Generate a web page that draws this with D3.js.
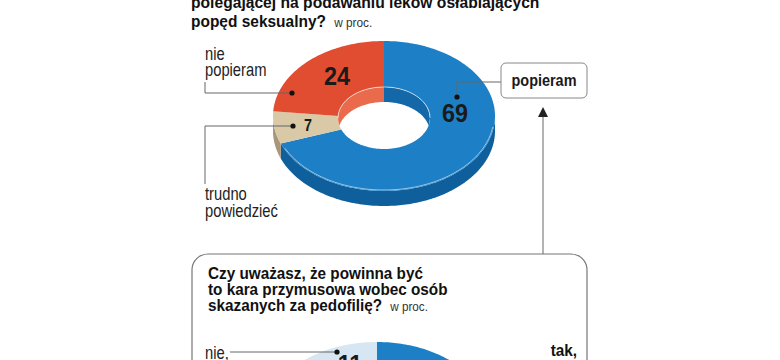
<!DOCTYPE html>
<html><head><meta charset="utf-8">
<script src="https://cdn.jsdelivr.net/npm/d3@7/dist/d3.min.js"></script>
<style>
html,body{margin:0;padding:0;background:#fff;}
svg{display:block;}
text{font-family:"Liberation Sans",Arial,sans-serif;}
</style></head>
<body>
<svg id="c" width="780" height="360"></svg>
<script>
// ---- data ----
const title1 = ["polegającej na podawaniu leków osłabiających", "popęd seksualny?"];
const title2 = ["Czy uważasz, że powinna być", "to kara przymusowa wobec osób", "skazanych za pedofilię?"];
const unitLabel = "w proc.";
const cats1 = ["popieram", "trudno powiedzieć", "nie popieram"];
const values1 = [69, 7, 24];
const cats2 = ["tak, powinna", "trudno powiedzieć", "nie"];
const values2 = [82, 7, 11];

const colTop1 = ["#1d80c6", "#d9c9a6", "#e04d30"];
const colSide1 = ["#0f5f9c", "#a8977a", "#b8391f"];
const colWall1 = ["#1568a8", "#c4b491", "#ea6a4c"];
const colTop2 = ["#1d80c6", "#b9cfe0", "#d6e6f2"];

const svg = d3.select("#c");
const TAU = Math.PI * 2;

function pts(cx, cy, rx, ry, a0, a1) {
  const n = Math.max(2, Math.ceil(Math.abs(a1 - a0) / 0.02));
  return d3.range(n + 1).map(i => {
    const t = a0 + (a1 - a0) * i / n;
    return [cx + rx * Math.sin(t), cy - ry * Math.cos(t)];
  });
}
const line = d3.line();
function closedPath(p) { return line(p) + "Z"; }

// condensed text helper
function txt(g, x, y, str, opt) {
  opt = opt || {};
  const t = g.append("text")
    .attr("transform", `translate(${x},${y}) scale(${opt.sx || 0.9},1)`)
    .attr("font-size", opt.size || 17)
    .attr("font-weight", opt.bold ? "bold" : "normal")
    .attr("text-anchor", opt.anchor || "start")
    .attr("fill", opt.fill || "#1a1a1a");
  if (str !== null) t.text(str);
  return t;
}

function drawDonut(g, values, colTop, colSide, colWall, o) {
  const pie = d3.pie().sort(null).value(d => d);
  const arcs = pie(values);
  if (colSide) {
    arcs.forEach((a, i) => {
      const s = Math.max(a.startAngle, Math.PI / 2), e = Math.min(a.endAngle, 3 * Math.PI / 2);
      if (e <= s) return;
      const p = pts(o.cx, o.cy, o.rx, o.ry, s, e).concat(pts(o.cx, o.cy + o.depth, o.rx, o.ry, e, s));
      g.append("path").attr("d", closedPath(p)).attr("fill", colSide[i]);
    });
  }
  arcs.forEach((a, i) => {
    const p = pts(o.cx, o.cy, o.rx, o.ry, a.startAngle, a.endAngle)
      .concat(pts(o.cx, o.cy + o.idy, o.irx, o.iry, a.endAngle, a.startAngle));
    g.append("path").attr("d", closedPath(p)).attr("fill", colTop[i]);
  });
  if (colSide) {
    g.append("path").attr("d", line(pts(o.cx, o.cy, o.rx - 1, o.ry - 1, Math.PI / 2 + 0.15, 3 * Math.PI / 2 - 0.45)))
      .attr("fill", "none").attr("stroke", "#ffffff").attr("stroke-opacity", 0.55).attr("stroke-width", 1);
  }
  if (colWall) {
    const id = "clip" + Math.round(o.cx) + "_" + Math.round(o.cy);
    svg.append("defs").append("clipPath").attr("id", id)
      .append("ellipse").attr("cx", o.cx).attr("cy", o.cy + o.idy).attr("rx", o.irx).attr("ry", o.iry);
    const wg = g.append("g").attr("clip-path", "url(#" + id + ")");
    arcs.forEach((a, i) => {
      [[0, Math.PI / 2], [3 * Math.PI / 2, TAU]].forEach(r => {
        const s = Math.max(a.startAngle, r[0]), e = Math.min(a.endAngle, r[1]);
        if (e <= s) return;
        const s2 = s - (r[0] === 0 ? 0.05 : 0), e2 = e + (r[1] === TAU ? 0.0 : 0.05);
        const p = pts(o.cx, o.cy + o.idy, o.irx, o.iry, s, e)
          .concat(pts(o.cx, o.cy + o.idy + o.depth, o.irx, o.iry, e2, s2));
        wg.append("path").attr("d", closedPath(p)).attr("fill", colWall[i]);
      });
    });
    g.append("path").attr("d", line(pts(o.cx, o.cy + o.idy, o.irx, o.iry, -Math.PI / 2, Math.PI / 2)))
      .attr("fill", "none").attr("stroke", "#ffffff").attr("stroke-opacity", 0.6).attr("stroke-width", 1);
  }
  return arcs;
}

const lc = "#666";

// ---- titles ----
const tg = svg.append("g");
txt(tg, 191, 8, title1[0], {size: 17, sx: 0.92, bold: true, fill: "#111"});
const t1b = txt(tg, 191, 27, null, {size: 17, sx: 0.91, bold: true, fill: "#111"});
t1b.append("tspan").text(title1[1]);
t1b.append("tspan").attr("dx", 9).attr("font-size", 13).attr("font-weight", "normal").attr("fill", "#333").text(unitLabel);

// ---- donut 1 ----
const o1 = {cx: 384, cy: 116, rx: 111, ry: 75, irx: 46, iry: 31, idy: 2, depth: 15};
drawDonut(svg.append("g"), values1, colTop1, colSide1, colWall1, o1);

// leaders
svg.append("path").attr("d", "M292,93H205V82").attr("fill", "none").attr("stroke", lc).attr("stroke-width", 1);
svg.append("path").attr("d", "M293,126H205V184").attr("fill", "none").attr("stroke", lc).attr("stroke-width", 1);
svg.append("path").attr("d", "M457,97V82H501").attr("fill", "none").attr("stroke", lc).attr("stroke-width", 1);
[[292, 93], [293, 126], [457, 97]].forEach(d => svg.append("circle").attr("cx", d[0]).attr("cy", d[1]).attr("r", 2.6).attr("fill", "#111"));

// popieram box
svg.append("rect").attr("x", 501).attr("y", 63).attr("width", 86).attr("height", 35).attr("rx", 5)
  .attr("fill", "#fff").attr("stroke", "#888").attr("stroke-width", 1);

const lab = svg.append("g");
txt(lab, 337, 85, values1[2], {size: 26, bold: true, anchor: "middle", sx: 0.9});
txt(lab, 455, 122, values1[0], {size: 26, bold: true, anchor: "middle", sx: 0.9});
txt(lab, 308, 131, values1[1], {size: 16, bold: true, anchor: "middle", sx: 0.9});
txt(lab, 205, 60, "nie", {size: 18, sx: 0.82, fill: "#222"});
txt(lab, 205, 76, "popieram", {size: 18, sx: 0.82, fill: "#222"});
txt(lab, 205, 200, "trudno", {size: 18, sx: 0.82, fill: "#222"});
txt(lab, 205, 217, "powiedzieć", {size: 18, sx: 0.82, fill: "#222"});
txt(lab, 544, 86, cats1[0], {size: 17, bold: true, anchor: "middle", sx: 0.85});

// arrow
svg.append("line").attr("x1", 543).attr("x2", 543).attr("y1", 114).attr("y2", 254).attr("stroke", lc).attr("stroke-width", 1);
svg.append("path").attr("d", "M543,107L538,117L548,117Z").attr("fill", "#222");

// bottom box
svg.append("rect").attr("x", 192).attr("y", 254).attr("width", 395).attr("height", 260).attr("rx", 16)
  .attr("fill", "#fff").attr("stroke", "#777").attr("stroke-width", 1.2);

// title 2
const t2 = svg.append("g");
txt(t2, 208, 279, title2[0], {size: 17, bold: true, fill: "#111"});
txt(t2, 208, 295, title2[1], {size: 17, bold: true, fill: "#111"});
const t2c = txt(t2, 208, 311, null, {size: 17, bold: true, fill: "#111"});
t2c.append("tspan").text(title2[2]);
t2c.append("tspan").attr("dx", 9).attr("font-size", 13).attr("font-weight", "normal").attr("fill", "#333").text(unitLabel);

// ---- donut 2 ----
const o2 = {cx: 377, cy: 417, rx: 111, ry: 75, irx: 46, iry: 31, idy: 2, depth: 15};
drawDonut(svg.append("g"), values2, colTop2, null, null, o2);

svg.append("path").attr("d", "M337,352H230").attr("fill", "none").attr("stroke", lc).attr("stroke-width", 1);
svg.append("circle").attr("cx", 337).attr("cy", 352).attr("r", 2.6).attr("fill", "#111");
const lab2 = svg.append("g");
txt(lab2, 350, 373, values2[2], {size: 26, bold: true, anchor: "middle", sx: 0.9});
txt(lab2, 205, 359, cats2[2] + ",", {size: 18, sx: 0.82, fill: "#222"});
txt(lab2, 577, 356, "tak,", {size: 17, bold: true, anchor: "end", fill: "#111"});
txt(lab2, 577, 372, "powinna", {size: 17, bold: true, anchor: "end", fill: "#111"});
</script>
</body></html>
